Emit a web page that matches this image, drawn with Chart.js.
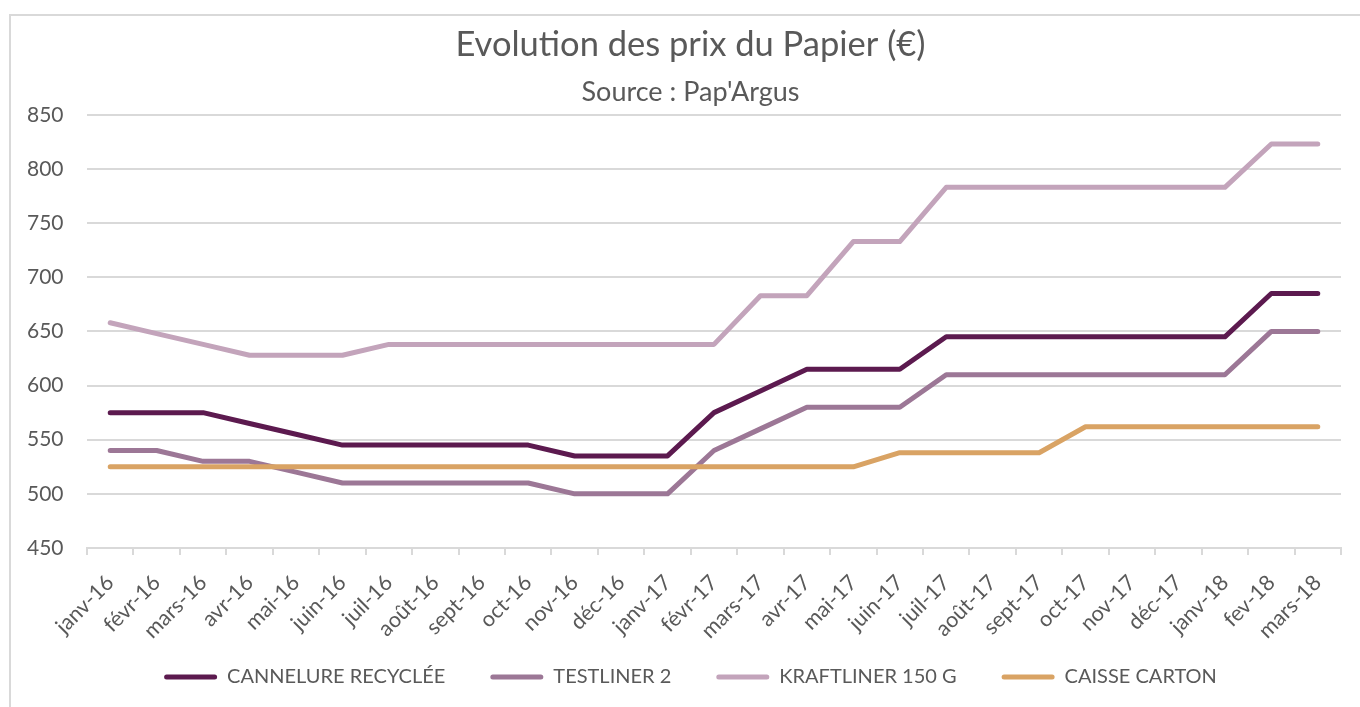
<!DOCTYPE html>
<html>
<head>
<meta charset="utf-8">
<script src="https://cdn.jsdelivr.net/npm/chart.js@4/dist/chart.umd.min.js"></script>
<style>
  html, body { margin: 0; padding: 0; background: #fff; overflow: hidden; }
  #frame { position: absolute; left: 9px; top: 14px; width: 1400px; height: 760px; border: 2px solid #d9d9d9; box-sizing: border-box; }
  #wrap { position: absolute; left: 0; top: 0; width: 1360px; height: 707px; }
</style>
</head>
<body>
<div id="frame"></div>
<div id="wrap"><canvas id="c" width="1360" height="707"></canvas></div>
<script>
const categories = ["janv-16","févr-16","mars-16","avr-16","mai-16","juin-16","juil-16","août-16","sept-16","oct-16","nov-16","déc-16","janv-17","févr-17","mars-17","avr-17","mai-17","juin-17","juil-17","août-17","sept-17","oct-17","nov-17","déc-17","janv-18","fev-18","mars-18"];
const cannelureRecyclee = [575,575,575,565,555,545,545,545,545,545,535,535,535,575,595,615,615,615,645,645,645,645,645,645,645,685,685];
const testliner2 = [540,540,530,530,520,510,510,510,510,510,500,500,500,540,560,580,580,580,610,610,610,610,610,610,610,650,650];
const kraftliner150 = [658,648,638,628,628,628,638,638,638,638,638,638,638,638,683,683,733,733,783,783,783,783,783,783,783,823,823];
const caisseCarton = [525,525,525,525,525,525,525,525,525,525,525,525,525,525,525,525,525,538,538,538,538,562,562,562,562,562,562];
const seriesNames = ["CANNELURE RECYCLÉE","TESTLINER 2","KRAFTLINER 150 G","CAISSE CARTON"];
const yTicks = [450,500,550,600,650,700,750,800,850];

const colors = ["#5c1a4f","#9c7796","#c3a4bb","#d9a364"];
const seriesData = [cannelureRecyclee, testliner2, kraftliner150, caisseCarton];
const FONT = "Lato, 'Open Sans', sans-serif";
const TXT = "#595959";

const datasets = seriesData.map((d, i) => ({
  label: seriesNames[i],
  data: d,
  borderColor: colors[i],
  backgroundColor: colors[i],
  borderWidth: 5,
  pointRadius: 0,
  tension: 0,
  fill: false,
  borderCapStyle: 'round',
  borderJoinStyle: 'round',
  order: 4 - i
}));

new Chart(document.getElementById('c'), {
  type: 'line',
  data: { labels: categories, datasets },
  options: {
    responsive: false,
    animation: false,
    layout: { padding: { left: 40, right: 19, top: 0, bottom: 10 } },
    plugins: {
      tooltip: { enabled: false },
      title: {
        display: true,
        text: "Evolution des prix du Papier (€)",
        color: TXT,
        font: { family: FONT, size: 34.5, weight: 'normal' },
        padding: { top: 24, bottom: 11 }
      },
      subtitle: {
        display: true,
        text: "Source : Pap'Argus",
        color: TXT,
        font: { family: FONT, size: 27, weight: 'normal' },
        padding: { top: 0, bottom: 6 }
      },
      legend: {
        position: 'bottom',
        labels: {
          color: TXT,
          font: { family: FONT, size: 20 },
          boxWidth: 53,
          boxHeight: 5,
          padding: 45,
          useBorderRadius: true,
          borderRadius: 2.5,
          sort: (a, b) => a.datasetIndex - b.datasetIndex,
          generateLabels: (chart) => Chart.defaults.plugins.legend.labels.generateLabels(chart).map(l => Object.assign(l, { lineWidth: 0 }))
        }
      }
    },
    scales: {
      x: {
        type: 'category',
        offset: true,
        afterFit: (scale) => { scale.height = 74; scale._computeLabelArea = () => undefined; },
        grid: { offset: true, drawOnChartArea: false, drawTicks: true, tickLength: 7, color: '#d9d9d9', lineWidth: 2 },
        border: { display: true, color: '#d9d9d9', width: 2 },
        ticks: { color: TXT, font: { family: FONT, size: 21.5 }, maxRotation: 45, minRotation: 45, autoSkip: false, padding: 15 }
      },
      y: {
        min: 450, max: 850,
        afterBuildTicks: (scale) => { scale.ticks = yTicks.map(v => ({ value: v })); },
        afterFit: (scale) => { scale.width = 47; },
        grid: { color: '#d9d9d9', lineWidth: 2, drawTicks: false },
        border: { display: false },
        ticks: { color: TXT, font: { family: FONT, size: 21 }, mirror: true, crossAlign: 'near', padding: -60 }
      }
    }
  }
});
</script>
</body>
</html>
